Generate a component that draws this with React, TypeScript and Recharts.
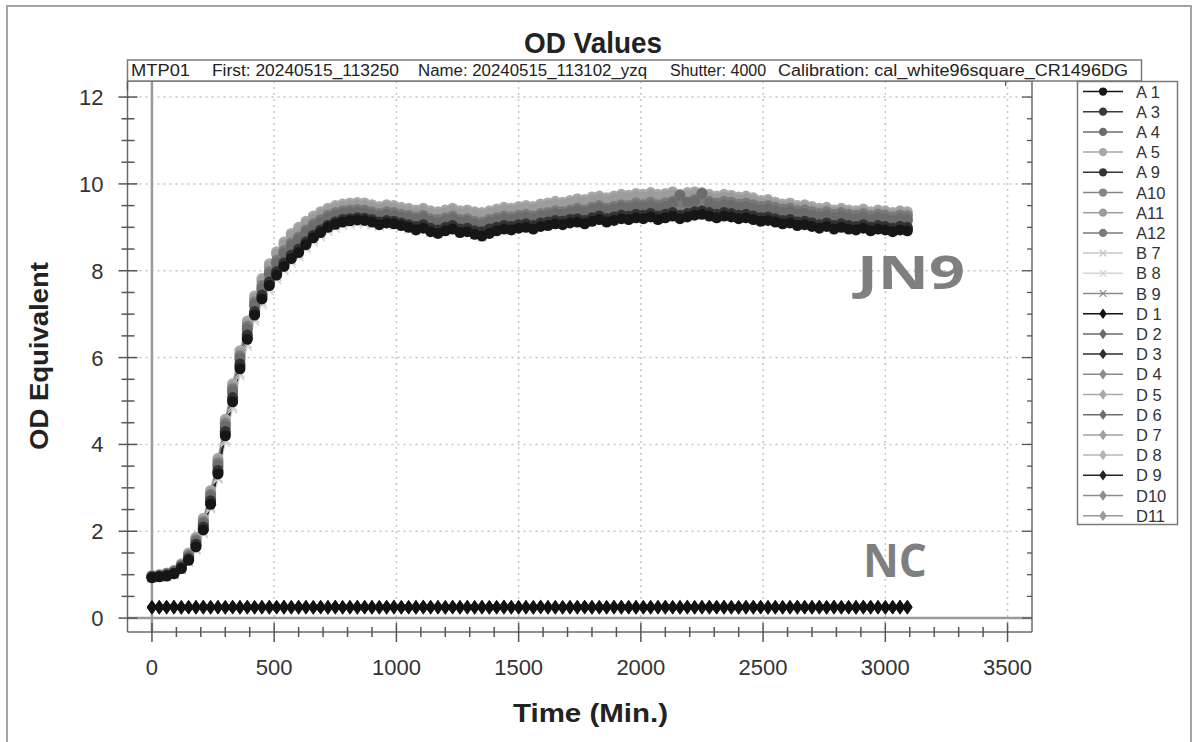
import React from 'react';
import { LineChart, Line, XAxis, YAxis, CartesianGrid, ReferenceLine } from 'recharts';

// ── values (one reading every 30 min) ────────────────────────────────

const TIME = [
  0, 30, 60, 90, 120, 150, 180, 210, 240, 270,
  300, 330, 360, 390, 420, 450, 480, 510, 540, 570,
  600, 630, 660, 690, 720, 750, 780, 810, 840, 870,
  900, 930, 960, 990, 1020, 1050, 1080, 1110, 1140, 1170,
  1200, 1230, 1260, 1290, 1320, 1350, 1380, 1410, 1440, 1470,
  1500, 1530, 1560, 1590, 1620, 1650, 1680, 1710, 1740, 1770,
  1800, 1830, 1860, 1890, 1920, 1950, 1980, 2010, 2040, 2070,
  2100, 2130, 2160, 2190, 2220, 2250, 2280, 2310, 2340, 2370,
  2400, 2430, 2460, 2490, 2520, 2550, 2580, 2610, 2640, 2670,
  2700, 2730, 2760, 2790, 2820, 2850, 2880, 2910, 2940, 2970,
  3000, 3030, 3060, 3090,
];

const A1 = [
  0.93, 0.95, 0.97, 1.02, 1.14, 1.33, 1.64, 2.03, 2.62, 3.32,
  4.20, 4.98, 5.74, 6.42, 6.98, 7.35, 7.66, 7.90, 8.10, 8.28,
  8.42, 8.60, 8.76, 8.88, 9.00, 9.07, 9.12, 9.15, 9.17, 9.16,
  9.12, 9.06, 9.10, 9.08, 9.04, 9.00, 8.94, 8.98, 8.90, 8.86,
  8.92, 8.96, 8.88, 8.90, 8.84, 8.80, 8.86, 8.92, 8.96, 8.94,
  8.98, 9.00, 8.96, 9.02, 9.04, 9.08, 9.06, 9.10, 9.12, 9.08,
  9.14, 9.18, 9.12, 9.16, 9.20, 9.18, 9.22, 9.20, 9.24, 9.18,
  9.22, 9.26, 9.20, 9.24, 9.28, 9.30, 9.26, 9.22, 9.26, 9.24,
  9.20, 9.22, 9.18, 9.14, 9.16, 9.12, 9.08, 9.10, 9.04, 9.06,
  9.02, 8.98, 9.02, 8.96, 9.00, 8.96, 8.94, 8.98, 8.92, 8.96,
  8.94, 8.90, 8.94, 8.92,
];
const A3 = [
  0.94, 0.96, 0.98, 1.03, 1.15, 1.35, 1.67, 2.06, 2.66, 3.36,
  4.25, 5.03, 5.80, 6.47, 7.02, 7.40, 7.70, 7.94, 8.14, 8.32,
  8.46, 8.63, 8.79, 8.91, 9.02, 9.10, 9.15, 9.18, 9.20, 9.19,
  9.15, 9.09, 9.13, 9.11, 9.07, 9.03, 8.98, 9.02, 8.94, 8.90,
  8.96, 9.00, 8.92, 8.94, 8.88, 8.85, 8.90, 8.96, 9.00, 8.98,
  9.02, 9.04, 9.00, 9.06, 9.08, 9.12, 9.10, 9.14, 9.16, 9.12,
  9.18, 9.22, 9.16, 9.20, 9.24, 9.22, 9.26, 9.24, 9.28, 9.22,
  9.26, 9.30, 9.24, 9.28, 9.32, 9.34, 9.30, 9.26, 9.30, 9.28,
  9.24, 9.26, 9.22, 9.18, 9.20, 9.16, 9.12, 9.14, 9.08, 9.10,
  9.06, 9.02, 9.06, 9.00, 9.04, 9.00, 8.98, 9.02, 8.96, 9.00,
  8.98, 8.94, 8.98, 8.96,
];
const A4 = [
  0.96, 0.98, 1.01, 1.07, 1.20, 1.42, 1.76, 2.18, 2.80, 3.52,
  4.42, 5.22, 5.98, 6.66, 7.22, 7.60, 7.92, 8.18, 8.40, 8.58,
  8.72, 8.88, 9.02, 9.12, 9.22, 9.28, 9.32, 9.34, 9.35, 9.34,
  9.30, 9.26, 9.30, 9.28, 9.24, 9.22, 9.18, 9.22, 9.14, 9.10,
  9.16, 9.20, 9.12, 9.14, 9.08, 9.06, 9.12, 9.16, 9.20, 9.18,
  9.22, 9.24, 9.20, 9.26, 9.28, 9.32, 9.30, 9.34, 9.38, 9.34,
  9.40, 9.44, 9.38, 9.42, 9.46, 9.44, 9.48, 9.46, 9.50, 9.44,
  9.48, 9.56, 9.74, 9.58, 9.60, 9.78, 9.56, 9.48, 9.52, 9.50,
  9.46, 9.48, 9.44, 9.40, 9.42, 9.38, 9.34, 9.36, 9.30, 9.32,
  9.28, 9.24, 9.28, 9.22, 9.26, 9.22, 9.20, 9.24, 9.18, 9.22,
  9.20, 9.16, 9.20, 9.18,
];
const A5 = [
  0.98, 1.00, 1.04, 1.10, 1.25, 1.50, 1.86, 2.30, 2.94, 3.68,
  4.58, 5.40, 6.16, 6.84, 7.42, 7.82, 8.16, 8.44, 8.66, 8.86,
  9.00, 9.14, 9.26, 9.36, 9.44, 9.50, 9.54, 9.56, 9.57, 9.56,
  9.52, 9.48, 9.52, 9.50, 9.46, 9.44, 9.40, 9.44, 9.38, 9.36,
  9.40, 9.44, 9.38, 9.40, 9.36, 9.34, 9.38, 9.42, 9.46, 9.44,
  9.48, 9.50, 9.48, 9.54, 9.56, 9.60, 9.58, 9.62, 9.66, 9.64,
  9.70, 9.72, 9.68, 9.72, 9.76, 9.74, 9.78, 9.76, 9.80, 9.76,
  9.78, 9.82, 9.76, 9.80, 9.82, 9.80, 9.76, 9.72, 9.76, 9.74,
  9.70, 9.72, 9.68, 9.62, 9.64, 9.58, 9.54, 9.56, 9.50, 9.52,
  9.48, 9.44, 9.46, 9.40, 9.44, 9.40, 9.38, 9.42, 9.36, 9.40,
  9.38, 9.34, 9.38, 9.36,
];
const A9 = [
  0.95, 0.96, 0.99, 1.04, 1.17, 1.37, 1.70, 2.10, 2.70, 3.40,
  4.30, 5.08, 5.85, 6.52, 7.06, 7.44, 7.74, 7.98, 8.18, 8.36,
  8.50, 8.66, 8.82, 8.94, 9.05, 9.12, 9.18, 9.20, 9.22, 9.21,
  9.18, 9.12, 9.16, 9.14, 9.10, 9.06, 9.02, 9.06, 8.98, 8.94,
  9.00, 9.04, 8.96, 8.98, 8.92, 8.90, 8.96, 9.00, 9.04, 9.02,
  9.06, 9.08, 9.04, 9.10, 9.12, 9.16, 9.14, 9.18, 9.20, 9.16,
  9.22, 9.26, 9.20, 9.24, 9.28, 9.26, 9.30, 9.28, 9.32, 9.26,
  9.30, 9.34, 9.28, 9.32, 9.36, 9.38, 9.34, 9.30, 9.34, 9.32,
  9.28, 9.30, 9.26, 9.22, 9.24, 9.20, 9.16, 9.18, 9.12, 9.14,
  9.10, 9.06, 9.10, 9.04, 9.08, 9.04, 9.02, 9.06, 9.00, 9.04,
  9.02, 8.98, 9.02, 9.00,
];
const A10 = [
  0.95, 0.97, 1.00, 1.06, 1.19, 1.40, 1.74, 2.15, 2.76, 3.48,
  4.38, 5.18, 5.95, 6.62, 7.18, 7.56, 7.88, 8.14, 8.36, 8.54,
  8.68, 8.84, 8.98, 9.08, 9.18, 9.26, 9.30, 9.32, 9.33, 9.32,
  9.28, 9.24, 9.28, 9.26, 9.22, 9.20, 9.16, 9.20, 9.12, 9.08,
  9.14, 9.18, 9.10, 9.12, 9.06, 9.04, 9.10, 9.14, 9.18, 9.16,
  9.20, 9.22, 9.18, 9.24, 9.26, 9.30, 9.28, 9.32, 9.36, 9.32,
  9.38, 9.42, 9.36, 9.40, 9.44, 9.42, 9.46, 9.44, 9.48, 9.42,
  9.46, 9.50, 9.44, 9.48, 9.52, 9.54, 9.50, 9.46, 9.50, 9.48,
  9.44, 9.46, 9.42, 9.38, 9.40, 9.36, 9.32, 9.34, 9.28, 9.30,
  9.26, 9.22, 9.26, 9.20, 9.24, 9.20, 9.18, 9.22, 9.16, 9.20,
  9.18, 9.14, 9.18, 9.16,
];
const A11 = [
  0.97, 0.99, 1.03, 1.09, 1.23, 1.47, 1.82, 2.26, 2.90, 3.63,
  4.52, 5.34, 6.10, 6.78, 7.36, 7.76, 8.10, 8.38, 8.60, 8.80,
  8.94, 9.08, 9.20, 9.30, 9.38, 9.44, 9.48, 9.50, 9.51, 9.50,
  9.46, 9.42, 9.46, 9.44, 9.40, 9.38, 9.34, 9.38, 9.32, 9.30,
  9.34, 9.38, 9.32, 9.34, 9.30, 9.28, 9.32, 9.36, 9.40, 9.38,
  9.42, 9.44, 9.42, 9.48, 9.50, 9.54, 9.52, 9.56, 9.60, 9.58,
  9.64, 9.66, 9.62, 9.66, 9.70, 9.68, 9.72, 9.70, 9.74, 9.70,
  9.72, 9.76, 9.70, 9.74, 9.76, 9.74, 9.70, 9.66, 9.70, 9.68,
  9.64, 9.66, 9.62, 9.56, 9.58, 9.52, 9.48, 9.50, 9.44, 9.46,
  9.42, 9.38, 9.40, 9.34, 9.38, 9.34, 9.32, 9.36, 9.30, 9.34,
  9.32, 9.28, 9.32, 9.30,
];
const A12 = [
  0.97, 0.99, 1.02, 1.08, 1.22, 1.45, 1.80, 2.22, 2.85, 3.58,
  4.48, 5.28, 6.04, 6.72, 7.28, 7.66, 7.98, 8.24, 8.46, 8.64,
  8.78, 8.94, 9.08, 9.18, 9.28, 9.34, 9.38, 9.40, 9.41, 9.40,
  9.36, 9.32, 9.36, 9.34, 9.30, 9.28, 9.24, 9.28, 9.20, 9.18,
  9.22, 9.26, 9.18, 9.20, 9.14, 9.12, 9.18, 9.22, 9.26, 9.24,
  9.28, 9.30, 9.26, 9.32, 9.34, 9.38, 9.36, 9.40, 9.44, 9.40,
  9.46, 9.50, 9.44, 9.48, 9.52, 9.50, 9.56, 9.52, 9.58, 9.52,
  9.56, 9.60, 9.54, 9.58, 9.64, 9.66, 9.60, 9.56, 9.60, 9.58,
  9.54, 9.56, 9.52, 9.48, 9.50, 9.46, 9.42, 9.44, 9.38, 9.40,
  9.36, 9.32, 9.36, 9.30, 9.34, 9.30, 9.28, 9.32, 9.26, 9.30,
  9.28, 9.24, 9.28, 9.26,
];
const B7 = [
  0.92, 0.94, 0.96, 1.01, 1.12, 1.30, 1.60, 1.98, 2.56, 3.24,
  4.10, 4.88, 5.64, 6.32, 6.90, 7.28, 7.60, 7.86, 8.06, 8.24,
  8.38, 8.56, 8.72, 8.84, 8.96, 9.04, 9.10, 9.13, 9.15, 9.14,
  9.12, 9.08, 9.12, 9.10, 9.06, 9.02, 8.98, 9.02, 8.94, 8.90,
  8.96, 9.00, 8.92, 8.94, 8.88, 8.84, 8.90, 8.96, 9.00, 8.98,
  9.04, 9.06, 9.02, 9.08, 9.10, 9.14, 9.12, 9.16, 9.18, 9.14,
  9.20, 9.24, 9.18, 9.22, 9.26, 9.24, 9.28, 9.26, 9.30, 9.24,
  9.28, 9.32, 9.26, 9.30, 9.34, 9.36, 9.32, 9.28, 9.32, 9.30,
  9.26, 9.28, 9.24, 9.20, 9.22, 9.18, 9.14, 9.16, 9.10, 9.12,
  9.08, 9.04, 9.08, 9.02, 9.06, 9.02, 9.00, 9.04, 8.98, 9.02,
  9.00, 8.96, 9.00, 8.98,
];
const B8 = [
  0.91, 0.93, 0.95, 1.00, 1.10, 1.28, 1.57, 1.95, 2.52, 3.20,
  4.05, 4.82, 5.58, 6.26, 6.84, 7.22, 7.54, 7.80, 8.00, 8.18,
  8.32, 8.50, 8.66, 8.78, 8.90, 8.98, 9.04, 9.07, 9.09, 9.08,
  9.06, 9.02, 9.06, 9.04, 9.00, 8.96, 8.92, 8.96, 8.88, 8.84,
  8.90, 8.94, 8.86, 8.88, 8.82, 8.78, 8.84, 8.90, 8.94, 8.92,
  8.98, 9.00, 8.96, 9.02, 9.04, 9.08, 9.06, 9.10, 9.12, 9.08,
  9.14, 9.18, 9.12, 9.16, 9.20, 9.18, 9.22, 9.20, 9.24, 9.18,
  9.22, 9.26, 9.20, 9.24, 9.28, 9.30, 9.26, 9.22, 9.26, 9.24,
  9.20, 9.22, 9.18, 9.14, 9.16, 9.12, 9.08, 9.10, 9.04, 9.06,
  9.02, 8.98, 9.02, 8.96, 9.00, 8.96, 8.94, 8.98, 8.92, 8.96,
  8.94, 8.90, 8.94, 8.92,
];
const B9 = [
  0.94, 0.96, 0.98, 1.03, 1.16, 1.36, 1.68, 2.08, 2.68, 3.38,
  4.28, 5.06, 5.82, 6.50, 7.06, 7.44, 7.76, 8.02, 8.24, 8.42,
  8.56, 8.72, 8.86, 8.98, 9.08, 9.16, 9.22, 9.24, 9.26, 9.25,
  9.22, 9.18, 9.22, 9.20, 9.16, 9.12, 9.08, 9.12, 9.04, 9.00,
  9.06, 9.10, 9.02, 9.04, 8.98, 8.96, 9.02, 9.06, 9.10, 9.08,
  9.12, 9.14, 9.10, 9.16, 9.18, 9.22, 9.20, 9.24, 9.28, 9.24,
  9.30, 9.34, 9.28, 9.32, 9.36, 9.34, 9.38, 9.36, 9.40, 9.34,
  9.38, 9.42, 9.36, 9.40, 9.44, 9.46, 9.42, 9.38, 9.42, 9.40,
  9.36, 9.38, 9.34, 9.30, 9.32, 9.28, 9.24, 9.26, 9.20, 9.22,
  9.18, 9.14, 9.18, 9.12, 9.16, 9.12, 9.10, 9.14, 9.08, 9.12,
  9.10, 9.06, 9.10, 9.08,
];

// negative-control wells (NC) sit flat at ~0.25
const D1 = [
  0.25, 0.25, 0.26, 0.25, 0.25, 0.25, 0.25, 0.26, 0.25, 0.25,
  0.25, 0.26, 0.25, 0.25, 0.25, 0.25, 0.26, 0.25, 0.25, 0.25,
  0.26, 0.25, 0.25, 0.25, 0.25, 0.26, 0.25, 0.25, 0.25, 0.25,
  0.25, 0.25, 0.26, 0.25, 0.25, 0.25, 0.25, 0.26, 0.25, 0.25,
  0.25, 0.26, 0.25, 0.25, 0.25, 0.25, 0.25, 0.25, 0.26, 0.25,
  0.25, 0.25, 0.25, 0.26, 0.25, 0.25, 0.25, 0.25, 0.25, 0.26,
  0.25, 0.25, 0.25, 0.25, 0.26, 0.25, 0.25, 0.25, 0.25, 0.25,
  0.26, 0.25, 0.25, 0.25, 0.25, 0.25, 0.26, 0.25, 0.25, 0.25,
  0.25, 0.25, 0.26, 0.25, 0.25, 0.25, 0.25, 0.25, 0.26, 0.25,
  0.25, 0.26, 0.25, 0.25, 0.25, 0.25, 0.25, 0.26, 0.25, 0.25,
  0.25, 0.25, 0.26, 0.25,
];
const D2 = [
  0.24, 0.25, 0.25, 0.25, 0.24, 0.25, 0.25, 0.25, 0.24, 0.25,
  0.25, 0.25, 0.24, 0.25, 0.25, 0.25, 0.24, 0.25, 0.25, 0.25,
  0.24, 0.25, 0.25, 0.25, 0.24, 0.25, 0.25, 0.25, 0.24, 0.25,
  0.25, 0.25, 0.24, 0.25, 0.25, 0.25, 0.24, 0.25, 0.25, 0.25,
  0.24, 0.25, 0.25, 0.25, 0.24, 0.25, 0.25, 0.25, 0.24, 0.25,
  0.25, 0.25, 0.24, 0.25, 0.25, 0.25, 0.24, 0.25, 0.25, 0.25,
  0.24, 0.25, 0.25, 0.25, 0.24, 0.25, 0.25, 0.25, 0.24, 0.25,
  0.25, 0.25, 0.24, 0.25, 0.25, 0.25, 0.24, 0.25, 0.25, 0.25,
  0.24, 0.25, 0.25, 0.25, 0.24, 0.25, 0.25, 0.25, 0.24, 0.25,
  0.25, 0.25, 0.24, 0.25, 0.25, 0.25, 0.24, 0.25, 0.25, 0.25,
  0.24, 0.25, 0.25, 0.25,
];
const D3 = [
  0.25, 0.25, 0.25, 0.25, 0.25, 0.25, 0.25, 0.25, 0.25, 0.25,
  0.25, 0.25, 0.25, 0.25, 0.25, 0.25, 0.25, 0.25, 0.25, 0.25,
  0.25, 0.25, 0.25, 0.25, 0.25, 0.25, 0.25, 0.25, 0.25, 0.25,
  0.25, 0.25, 0.25, 0.25, 0.25, 0.25, 0.25, 0.25, 0.25, 0.25,
  0.25, 0.25, 0.25, 0.25, 0.25, 0.25, 0.25, 0.25, 0.25, 0.25,
  0.25, 0.25, 0.25, 0.25, 0.25, 0.25, 0.25, 0.25, 0.25, 0.25,
  0.25, 0.25, 0.25, 0.25, 0.25, 0.25, 0.25, 0.25, 0.25, 0.25,
  0.25, 0.25, 0.25, 0.25, 0.25, 0.25, 0.25, 0.25, 0.25, 0.25,
  0.25, 0.25, 0.25, 0.25, 0.25, 0.25, 0.25, 0.25, 0.25, 0.25,
  0.25, 0.25, 0.25, 0.25, 0.25, 0.25, 0.25, 0.25, 0.25, 0.25,
  0.25, 0.25, 0.25, 0.25,
];
const D4 = [
  0.26, 0.25, 0.25, 0.26, 0.25, 0.25, 0.26, 0.25, 0.25, 0.26,
  0.25, 0.25, 0.26, 0.25, 0.25, 0.26, 0.25, 0.25, 0.26, 0.25,
  0.25, 0.26, 0.25, 0.25, 0.26, 0.25, 0.25, 0.26, 0.25, 0.25,
  0.26, 0.25, 0.25, 0.26, 0.25, 0.25, 0.26, 0.25, 0.25, 0.26,
  0.25, 0.25, 0.26, 0.25, 0.25, 0.26, 0.25, 0.25, 0.26, 0.25,
  0.25, 0.26, 0.25, 0.25, 0.26, 0.25, 0.25, 0.26, 0.25, 0.25,
  0.26, 0.25, 0.25, 0.26, 0.25, 0.25, 0.26, 0.25, 0.25, 0.26,
  0.25, 0.25, 0.26, 0.25, 0.25, 0.26, 0.25, 0.25, 0.26, 0.25,
  0.25, 0.26, 0.25, 0.25, 0.26, 0.25, 0.25, 0.26, 0.25, 0.25,
  0.26, 0.25, 0.25, 0.26, 0.25, 0.25, 0.26, 0.25, 0.25, 0.26,
  0.25, 0.25, 0.26, 0.25,
];
const D5 = [
  0.24, 0.24, 0.25, 0.24, 0.24, 0.25, 0.24, 0.24, 0.25, 0.24,
  0.24, 0.25, 0.24, 0.24, 0.25, 0.24, 0.24, 0.25, 0.24, 0.24,
  0.25, 0.24, 0.24, 0.25, 0.24, 0.24, 0.25, 0.24, 0.24, 0.25,
  0.24, 0.24, 0.25, 0.24, 0.24, 0.25, 0.24, 0.24, 0.25, 0.24,
  0.24, 0.25, 0.24, 0.24, 0.25, 0.24, 0.24, 0.25, 0.24, 0.24,
  0.25, 0.24, 0.24, 0.25, 0.24, 0.24, 0.25, 0.24, 0.24, 0.25,
  0.24, 0.24, 0.25, 0.24, 0.24, 0.25, 0.24, 0.24, 0.25, 0.24,
  0.24, 0.25, 0.24, 0.24, 0.25, 0.24, 0.24, 0.25, 0.24, 0.24,
  0.25, 0.24, 0.24, 0.25, 0.24, 0.24, 0.25, 0.24, 0.24, 0.25,
  0.24, 0.24, 0.25, 0.24, 0.24, 0.25, 0.24, 0.24, 0.25, 0.24,
  0.24, 0.25, 0.24, 0.24,
];
const D6 = [
  0.25, 0.26, 0.25, 0.25, 0.25, 0.26, 0.25, 0.25, 0.25, 0.26,
  0.25, 0.25, 0.25, 0.26, 0.25, 0.25, 0.25, 0.26, 0.25, 0.25,
  0.25, 0.26, 0.25, 0.25, 0.25, 0.26, 0.25, 0.25, 0.25, 0.26,
  0.25, 0.25, 0.25, 0.26, 0.25, 0.25, 0.25, 0.26, 0.25, 0.25,
  0.25, 0.26, 0.25, 0.25, 0.25, 0.26, 0.25, 0.25, 0.25, 0.26,
  0.25, 0.25, 0.25, 0.26, 0.25, 0.25, 0.25, 0.26, 0.25, 0.25,
  0.25, 0.26, 0.25, 0.25, 0.25, 0.26, 0.25, 0.25, 0.25, 0.26,
  0.25, 0.25, 0.25, 0.26, 0.25, 0.25, 0.25, 0.26, 0.25, 0.25,
  0.25, 0.26, 0.25, 0.25, 0.25, 0.26, 0.25, 0.25, 0.25, 0.26,
  0.25, 0.25, 0.25, 0.26, 0.25, 0.25, 0.25, 0.26, 0.25, 0.25,
  0.25, 0.26, 0.25, 0.25,
];
const D7 = [
  0.26, 0.26, 0.25, 0.26, 0.26, 0.25, 0.26, 0.26, 0.25, 0.26,
  0.26, 0.25, 0.26, 0.26, 0.25, 0.26, 0.26, 0.25, 0.26, 0.26,
  0.25, 0.26, 0.26, 0.25, 0.26, 0.26, 0.25, 0.26, 0.26, 0.25,
  0.26, 0.26, 0.25, 0.26, 0.26, 0.25, 0.26, 0.26, 0.25, 0.26,
  0.26, 0.25, 0.26, 0.26, 0.25, 0.26, 0.26, 0.25, 0.26, 0.26,
  0.25, 0.26, 0.26, 0.25, 0.26, 0.26, 0.25, 0.26, 0.26, 0.25,
  0.26, 0.26, 0.25, 0.26, 0.26, 0.25, 0.26, 0.26, 0.25, 0.26,
  0.26, 0.25, 0.26, 0.26, 0.25, 0.26, 0.26, 0.25, 0.26, 0.26,
  0.25, 0.26, 0.26, 0.25, 0.26, 0.26, 0.25, 0.26, 0.26, 0.25,
  0.26, 0.26, 0.25, 0.26, 0.26, 0.25, 0.26, 0.26, 0.25, 0.26,
  0.26, 0.25, 0.26, 0.26,
];
const D8 = [
  0.25, 0.24, 0.25, 0.25, 0.24, 0.25, 0.25, 0.24, 0.25, 0.25,
  0.24, 0.25, 0.25, 0.24, 0.25, 0.25, 0.24, 0.25, 0.25, 0.24,
  0.25, 0.25, 0.24, 0.25, 0.25, 0.24, 0.25, 0.25, 0.24, 0.25,
  0.25, 0.24, 0.25, 0.25, 0.24, 0.25, 0.25, 0.24, 0.25, 0.25,
  0.24, 0.25, 0.25, 0.24, 0.25, 0.25, 0.24, 0.25, 0.25, 0.24,
  0.25, 0.25, 0.24, 0.25, 0.25, 0.24, 0.25, 0.25, 0.24, 0.25,
  0.25, 0.24, 0.25, 0.25, 0.24, 0.25, 0.25, 0.24, 0.25, 0.25,
  0.24, 0.25, 0.25, 0.24, 0.25, 0.25, 0.24, 0.25, 0.25, 0.24,
  0.25, 0.25, 0.24, 0.25, 0.25, 0.24, 0.25, 0.25, 0.24, 0.25,
  0.25, 0.24, 0.25, 0.25, 0.24, 0.25, 0.25, 0.24, 0.25, 0.25,
  0.24, 0.25, 0.25, 0.24,
];
const D9 = [
  0.25, 0.25, 0.25, 0.26, 0.25, 0.25, 0.25, 0.25, 0.26, 0.25,
  0.25, 0.25, 0.25, 0.26, 0.25, 0.25, 0.25, 0.25, 0.26, 0.25,
  0.25, 0.25, 0.25, 0.26, 0.25, 0.25, 0.25, 0.25, 0.26, 0.25,
  0.25, 0.25, 0.25, 0.26, 0.25, 0.25, 0.25, 0.25, 0.26, 0.25,
  0.25, 0.25, 0.25, 0.26, 0.25, 0.25, 0.25, 0.25, 0.26, 0.25,
  0.25, 0.25, 0.25, 0.26, 0.25, 0.25, 0.25, 0.25, 0.26, 0.25,
  0.25, 0.25, 0.25, 0.26, 0.25, 0.25, 0.25, 0.25, 0.26, 0.25,
  0.25, 0.25, 0.25, 0.26, 0.25, 0.25, 0.25, 0.25, 0.26, 0.25,
  0.25, 0.25, 0.25, 0.26, 0.25, 0.25, 0.25, 0.25, 0.26, 0.25,
  0.25, 0.25, 0.25, 0.26, 0.25, 0.25, 0.25, 0.25, 0.26, 0.25,
  0.25, 0.25, 0.25, 0.26,
];
const D10 = [
  0.24, 0.25, 0.24, 0.25, 0.24, 0.25, 0.24, 0.25, 0.24, 0.25,
  0.24, 0.25, 0.24, 0.25, 0.24, 0.25, 0.24, 0.25, 0.24, 0.25,
  0.24, 0.25, 0.24, 0.25, 0.24, 0.25, 0.24, 0.25, 0.24, 0.25,
  0.24, 0.25, 0.24, 0.25, 0.24, 0.25, 0.24, 0.25, 0.24, 0.25,
  0.24, 0.25, 0.24, 0.25, 0.24, 0.25, 0.24, 0.25, 0.24, 0.25,
  0.24, 0.25, 0.24, 0.25, 0.24, 0.25, 0.24, 0.25, 0.24, 0.25,
  0.24, 0.25, 0.24, 0.25, 0.24, 0.25, 0.24, 0.25, 0.24, 0.25,
  0.24, 0.25, 0.24, 0.25, 0.24, 0.25, 0.24, 0.25, 0.24, 0.25,
  0.24, 0.25, 0.24, 0.25, 0.24, 0.25, 0.24, 0.25, 0.24, 0.25,
  0.24, 0.25, 0.24, 0.25, 0.24, 0.25, 0.24, 0.25, 0.24, 0.25,
  0.24, 0.25, 0.24, 0.25,
];
const D11 = [
  0.25, 0.25, 0.24, 0.25, 0.25, 0.25, 0.24, 0.25, 0.25, 0.25,
  0.24, 0.25, 0.25, 0.25, 0.24, 0.25, 0.25, 0.25, 0.24, 0.25,
  0.25, 0.25, 0.24, 0.25, 0.25, 0.25, 0.24, 0.25, 0.25, 0.25,
  0.24, 0.25, 0.25, 0.25, 0.24, 0.25, 0.25, 0.25, 0.24, 0.25,
  0.25, 0.25, 0.24, 0.25, 0.25, 0.25, 0.24, 0.25, 0.25, 0.25,
  0.24, 0.25, 0.25, 0.25, 0.24, 0.25, 0.25, 0.25, 0.24, 0.25,
  0.25, 0.25, 0.24, 0.25, 0.25, 0.25, 0.24, 0.25, 0.25, 0.25,
  0.24, 0.25, 0.25, 0.25, 0.24, 0.25, 0.25, 0.25, 0.24, 0.25,
  0.25, 0.25, 0.24, 0.25, 0.25, 0.25, 0.24, 0.25, 0.25, 0.25,
  0.24, 0.25, 0.25, 0.25, 0.24, 0.25, 0.25, 0.25, 0.24, 0.25,
  0.25, 0.25, 0.24, 0.25,
];

// ── axis ticks ──────────────────────────────────────────

const X_TICKS = [
  0, 100, 200, 300, 400, 500, 600, 700, 800, 900, 1000, 1100, 1200,
  1300, 1400, 1500, 1600, 1700, 1800, 1900, 2000, 2100, 2200, 2300, 2400,
  2500, 2600, 2700, 2800, 2900, 3000, 3100, 3200, 3300, 3400, 3500,
];
const X_LABELS = [0, 500, 1000, 1500, 2000, 2500, 3000, 3500];
const Y_TICKS = [
  0, 0.5, 1, 1.5, 2, 2.5, 3, 3.5, 4, 4.5, 5, 5.5, 6,
  6.5, 7, 7.5, 8, 8.5, 9, 9.5, 10, 10.5, 11, 11.5, 12,
];
const Y_LABELS = [0, 2, 4, 6, 8, 10, 12];

const X_DOMAIN = [-100, 3600];
const Y_DOMAIN = [-0.32, 12.37];

// len = 0 → natural width
const SUBTITLE = [
  { text: 'MTP01', x: 131, len: 59 },
  { text: 'First: 20240515_113250', x: 212, len: 187 },
  { text: 'Name: 20240515_113102_yzq', x: 418, len: 229 },
  { text: 'Shutter: 4000', x: 670, len: 0 },
  { text: 'Calibration: cal_white96square_CR1496DG', x: 778, len: 350 },
];

// ── series styling ──────────────────────────────────────

type Shape = 'circle' | 'cross' | 'diamond';

interface SeriesDef {
  id: string;
  label: string;
  values: number[];
  color: string;
  shape: Shape;
}

const SERIES: SeriesDef[] = [
  { id: 'A1', label: 'A 1', values: A1, color: '#161616', shape: 'circle' },
  { id: 'A3', label: 'A 3', values: A3, color: '#3a3a3a', shape: 'circle' },
  { id: 'A4', label: 'A 4', values: A4, color: '#6c6c6c', shape: 'circle' },
  { id: 'A5', label: 'A 5', values: A5, color: '#a8a8a8', shape: 'circle' },
  { id: 'A9', label: 'A 9', values: A9, color: '#333333', shape: 'circle' },
  { id: 'A10', label: 'A10', values: A10, color: '#858585', shape: 'circle' },
  { id: 'A11', label: 'A11', values: A11, color: '#9c9c9c', shape: 'circle' },
  { id: 'A12', label: 'A12', values: A12, color: '#7a7a7a', shape: 'circle' },
  { id: 'B7', label: 'B 7', values: B7, color: '#c6c6c6', shape: 'cross' },
  { id: 'B8', label: 'B 8', values: B8, color: '#d4d4d4', shape: 'cross' },
  { id: 'B9', label: 'B 9', values: B9, color: '#8a8a8a', shape: 'cross' },
  { id: 'D1', label: 'D 1', values: D1, color: '#111111', shape: 'diamond' },
  { id: 'D2', label: 'D 2', values: D2, color: '#6a6a6a', shape: 'diamond' },
  { id: 'D3', label: 'D 3', values: D3, color: '#2c2c2c', shape: 'diamond' },
  { id: 'D4', label: 'D 4', values: D4, color: '#8a8a8a', shape: 'diamond' },
  { id: 'D5', label: 'D 5', values: D5, color: '#a8a8a8', shape: 'diamond' },
  { id: 'D6', label: 'D 6', values: D6, color: '#6e6e6e', shape: 'diamond' },
  { id: 'D7', label: 'D 7', values: D7, color: '#a0a0a0', shape: 'diamond' },
  { id: 'D8', label: 'D 8', values: D8, color: '#b4b4b4', shape: 'diamond' },
  { id: 'D9', label: 'D 9', values: D9, color: '#242424', shape: 'diamond' },
  { id: 'D10', label: 'D10', values: D10, color: '#8c8c8c', shape: 'diamond' },
  { id: 'D11', label: 'D11', values: D11, color: '#9a9a9a', shape: 'diamond' },
];

// light wells underneath, dark wells on top
const DRAW_ORDER = [
  'B8', 'B7', 'A5', 'A11', 'B9', 'A10', 'A12', 'A4', 'A3', 'A9', 'A1',
  'D8', 'D5', 'D7', 'D11', 'D10', 'D4', 'D2', 'D6', 'D3', 'D9', 'D1',
];

const FONT = "'Liberation Sans', Arial, Helvetica, sans-serif";
const AXIS_COLOR = '#6a6a6a';

const rows = TIME.map((t, i) => {
  const row: Record<string, number> = { t };
  SERIES.forEach(s => { row[s.id] = s.values[i]; });
  return row;
});

// ── markers ─────────────────────────────────────────────

const Marker = ({ shape, cx, cy, color, k = 1 }: { shape: Shape; cx: number; cy: number; color: string; k?: number }) => {
  if (shape === 'circle') return <circle cx={cx} cy={cy} r={5.5 * k} fill={color} />;
  if (shape === 'cross') {
    const d = 4.5 * k;
    return (
      <g stroke={color} strokeWidth={1.3}>
        <line x1={cx - d} y1={cy - d} x2={cx + d} y2={cy + d} />
        <line x1={cx - d} y1={cy + d} x2={cx + d} y2={cy - d} />
      </g>
    );
  }
  const w = 5 * k, h = 7 * k;
  return <path d={`M${cx},${cy - h}L${cx + w},${cy}L${cx},${cy + h}L${cx - w},${cy}Z`} fill={color} />;
};

// ── custom ticks (tickSize=0, so x/y sit exactly on the axis line) ──

// eslint-disable-next-line @typescript-eslint/no-explicit-any
const BottomTick = ({ x, y, payload }: any) => {
  const major = X_LABELS.includes(payload.value);
  return (
    <g>
      <line x1={x} x2={x} y1={y - (major ? 9 : 5)} y2={y + (major ? 10 : 5)} stroke="#555" strokeWidth={1.5} />
      {major && (
        <text x={x} y={y + 43} textAnchor="middle" fontSize={22} fill="#333" fontFamily={FONT}>
          {payload.value}
        </text>
      )}
    </g>
  );
};

// eslint-disable-next-line @typescript-eslint/no-explicit-any
const LeftTick = ({ x, y, payload }: any) => {
  const major = Y_LABELS.includes(payload.value);
  return (
    <g>
      <line x1={x - (major ? 9 : 6)} x2={x + (major ? 10 : 7)} y1={y} y2={y} stroke="#555" strokeWidth={1.5} />
      {major && (
        <text x={x - 24} y={y + 8} textAnchor="end" fontSize={22} fill="#333" fontFamily={FONT}>
          {payload.value}
        </text>
      )}
    </g>
  );
};

// eslint-disable-next-line @typescript-eslint/no-explicit-any
const TopTick = ({ x, y, payload }: any) => {
  const major = X_LABELS.includes(payload.value);
  return <line x1={x} x2={x} y1={y} y2={y + (major ? 9 : 5)} stroke="#555" strokeWidth={1.3} />;
};

// eslint-disable-next-line @typescript-eslint/no-explicit-any
const RightTick = ({ x, y, payload }: any) => {
  const major = Y_LABELS.includes(payload.value);
  return <line x1={x - (major ? 10 : 5)} x2={x} y1={y} y2={y} stroke="#555" strokeWidth={1.3} />;
};

// ── legend / annotations overlay ────────────────────────

const LEG_X = 1077.5;
const LEG_Y0 = 91.5;
const LEG_STEP = 20.2;

const Overlay = () => (
  <svg width={1192} height={742} style={{ position: 'absolute', left: 0, top: 0, pointerEvents: 'none' }} fontFamily={FONT}>
    {/* title */}
    <text x={524} y={53} fontSize={30} fontWeight="bold" fill="#222" textLength={138} lengthAdjust="spacingAndGlyphs">
      OD Values
    </text>

    {/* run info strip */}
    <rect x={127.5} y={60} width={1014} height={21} fill="#fff" stroke="#7a7a7a" strokeWidth={1.5} />
    {SUBTITLE.map(s => (
      <text
        key={s.text} x={s.x} y={76} fontSize={16} fill="#222"
        {...(s.len ? { textLength: s.len, lengthAdjust: 'spacingAndGlyphs' } : {})}
      >
        {s.text}
      </text>
    ))}

    {/* legend */}
    <rect x={LEG_X} y={81.5} width={100} height={443} fill="#fff" stroke="#7a7a7a" strokeWidth={1.5} />
    {SERIES.map((s, i) => {
      const y = LEG_Y0 + i * LEG_STEP;
      return (
        <g key={s.id}>
          <line x1={1083} x2={1123} y1={y} y2={y} stroke={s.color} strokeWidth={1.5} />
          <Marker shape={s.shape} cx={1103} cy={y} color={s.color} k={0.75} />
          <text x={1136} y={y + 6} fontSize={16.5} fill="#333">{s.label}</text>
        </g>
      );
    })}

    {/* axis titles */}
    <text x={513} y={722} fontSize={26} fontWeight="bold" fill="#222" textLength={155} lengthAdjust="spacingAndGlyphs">
      Time (Min.)
    </text>
    <text
      x={0} y={0} fontSize={25} fontWeight="bold" fill="#222" textAnchor="middle"
      textLength={188} lengthAdjust="spacingAndGlyphs"
      transform="translate(48,356) rotate(-90)"
    >
      OD Equivalent
    </text>

    {/* group annotations */}
    <text x={857} y={289} fontSize={46} fontWeight="bold" fill="#7f7f7f" fontFamily="'Open Sans', 'Noto Sans', sans-serif"
      textLength={108} lengthAdjust="spacingAndGlyphs">
      JN9
    </text>
    <text x={863} y={577} fontSize={46} fontWeight="bold" fill="#7f7f7f" fontFamily="'Open Sans', 'Noto Sans', sans-serif"
      textLength={64} lengthAdjust="spacingAndGlyphs">
      NC
    </text>
  </svg>
);

// ── main ────────────────────────────────────────────────

export default function App() {
  const ordered = DRAW_ORDER.map(id => SERIES.find(s => s.id === id)!);
  return (
    <div style={{ position: 'absolute', left: 0, top: 0, width: 1192, height: 742, background: '#fff', overflow: 'hidden' }}>
      {/* outer picture frame */}
      <div style={{
        position: 'absolute', left: 6, top: 5, width: 1182, height: 740,
        border: '2px solid #a2a2a2', borderBottom: 'none',
      }} />

      <div style={{ position: 'absolute', left: 0, top: 0 }}>
        <LineChart width={1192} height={742} data={rows} margin={{ top: 80, right: 159, bottom: 50, left: 67.5 }}>
          <CartesianGrid
            horizontal
            vertical
            horizontalValues={[2, 4, 6, 8, 10, 12]}
            verticalValues={[500, 1000, 1500, 2000, 2500, 3000, 3500]}
            stroke="#c4c4c4"
            strokeDasharray="2 4"
            strokeWidth={1.5}
          />
          <XAxis
            dataKey="t" type="number" domain={X_DOMAIN} allowDataOverflow ticks={X_TICKS} interval={0}
            height={60} tickSize={0} tickMargin={0} tick={<BottomTick />}
            axisLine={{ stroke: AXIS_COLOR, strokeWidth: 1.5 }}
          />
          <XAxis
            xAxisId="top" orientation="top" type="number" domain={X_DOMAIN} allowDataOverflow ticks={X_TICKS} interval={0}
            height={1} tickSize={0} tickMargin={0} tick={<TopTick />}
            axisLine={{ stroke: AXIS_COLOR, strokeWidth: 1.5 }}
          />
          <YAxis
            type="number" domain={Y_DOMAIN} allowDataOverflow ticks={Y_TICKS} interval={0}
            width={60} tickSize={0} tickMargin={0} tick={<LeftTick />}
            axisLine={{ stroke: AXIS_COLOR, strokeWidth: 1.5 }}
          />
          <YAxis
            yAxisId="right" orientation="right" type="number" domain={Y_DOMAIN} allowDataOverflow ticks={Y_TICKS} interval={0}
            width={1} tickSize={0} tickMargin={0} tick={<RightTick />}
            axisLine={{ stroke: AXIS_COLOR, strokeWidth: 1.5 }}
          />

          <ReferenceLine x={0} stroke="#9a9a9a" strokeWidth={2.5} />
          <ReferenceLine y={0} stroke="#9a9a9a" strokeWidth={2.5} />

          {ordered.map(s => (
            <Line
              key={s.id}
              dataKey={s.id}
              stroke={s.color}
              strokeWidth={1.2}
              // eslint-disable-next-line @typescript-eslint/no-explicit-any
              dot={(p: any) => <Marker key={`${s.id}-${p.index}`} shape={s.shape} cx={p.cx} cy={p.cy} color={s.color} />}
              activeDot={false}
              isAnimationActive={false}
            />
          ))}
        </LineChart>
      </div>

      <Overlay />
    </div>
  );
}
